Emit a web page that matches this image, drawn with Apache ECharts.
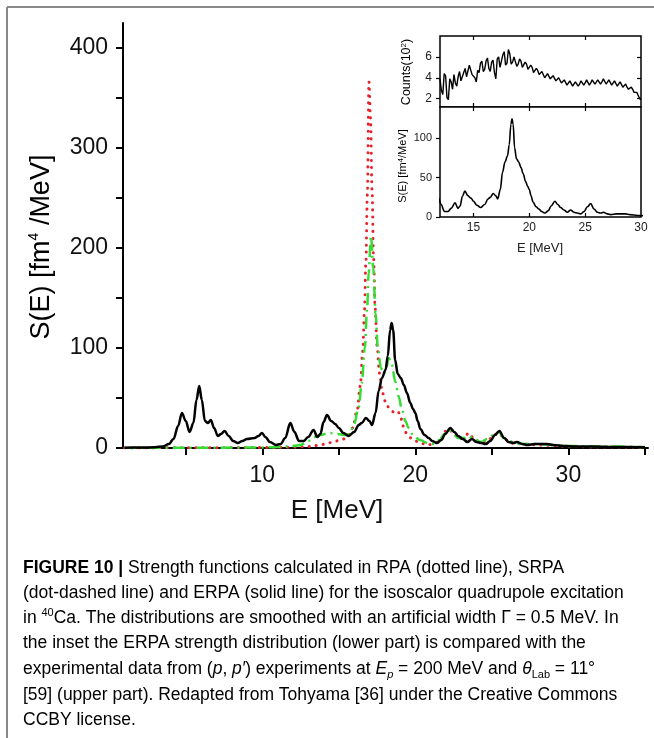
<!DOCTYPE html>
<html>
<head>
<meta charset="utf-8">
<script src="https://cdn.jsdelivr.net/npm/echarts@6/dist/echarts.min.js"></script>
<style>
html,body{margin:0;padding:0;background:#fff;}
#c{width:654px;height:738px;}
</style>
</head>
<body>
<div id="c"></div>
<script>
// ---------- Main chart data (E in MeV, S in fm^4/MeV) ----------
const erpaE = [1.0,2.0,3.0,3.5,3.9,4.2,4.5,4.75,5.0,5.25,5.5,5.7,5.88,6.05,6.25,6.45,6.64,6.85,7.1,7.3,7.54,7.8,8.1,8.4,8.7,9.0,9.5,9.75,9.98,10.2,10.5,10.9,11.2,11.5,11.83,12.1,12.4,12.7,13.0,13.35,13.6,13.8,14.0,14.23,14.5,14.77,15.0,15.3,15.64,16.0,16.3,16.5,16.77,17.0,17.17,17.4,17.6,17.82,18.05,18.2,18.35,18.45,18.55,18.68,18.85,19.05,19.25,19.45,19.67,19.85,20.0,20.15,20.33,20.6,20.87,21.1,21.4,21.7,21.95,22.29,22.55,22.8,23.1,23.4,23.7,24.0,24.3,24.6,24.9,25.2,25.49,25.8,26.1,26.4,26.64,27.0,27.3,27.8,28.3,28.6,29.0,29.7,30.5,31.5,33.0,35.0];
const erpaS = [0.3,0.4,0.8,1.5,4,9,22,35,27,16,25,48,62,48,27,25,28,20,12,14,17,12,7,5,7,9,10,12,15,11,6,3,4,10,25,16,7,7,11,18,11,14,26,33,27,24,20,15,12,16,23,25,30,27,23,35,57,70,78,92,118,125,118,88,74,70,63,55,45,39,35,27,19,13,10,7,5,8,14,20,16,12,9,6,9,6,5,4,7,13,17,10,6,5,6,4,3,4,4,4,3,2,1.5,1.5,1,0.8];

const rpaE = [1.0,5,10,12,13,13.8,14.3,14.8,15.3,15.6,15.9,16.2,16.4,16.57,16.67,16.77,16.87,16.97,17.07,17.17,17.27,17.37,17.5,17.65,17.85,18.1,18.35,18.6,18.85,19.0,19.2,19.45,19.8,20.3,20.8,21.3,21.7,22.0,22.2,22.5,22.9,23.2,23.5,23.8,24.2,24.6,25.0,25.3,25.5,25.8,26.3,27,28,29,30,32,35];
const rpaS = [0,0.2,0.5,0.8,1.5,3,5,7,9,12,20,38,62,97,135,185,255,366,330,258,190,140,102,75,55,44,38,36,37,33,22,14,9,5,3,5,10,17,19,14,9,11,15,10,6,6,10,14,15,9,5,4,3,2.5,1.5,1,0.5];

const srpaE = [1.0,5,10,11.2,12.0,12.5,13.0,13.4,13.8,14.35,14.9,15.4,15.7,16.0,16.3,16.5,16.7,16.85,16.95,17.1,17.25,17.4,17.55,17.75,17.93,18.1,18.26,18.45,18.7,18.9,19.13,19.35,19.56,19.9,20.3,20.8,21.2,21.6,21.9,22.2,22.5,22.8,23.2,23.5,23.8,24.3,24.7,25.1,25.45,25.8,26.1,26.6,27,28,29,30,32,35];
const srpaS = [0,0.2,0.5,1,2,3,7,11,13,15,14,13,14,24,41,65,100,140,175,212,180,135,100,80,74,80,90,84,66,52,38,27,20,12,8,5,4,8,14,18,14,10,10,12,9,6,9,13,16,10,7,5,4,4,3,2,1.5,1];

// ---------- Inset: experimental counts (x10^2) ----------
const countsE = [12.000,12.125,12.250,12.375,12.500,12.625,12.750,12.875,13.000,13.125,13.250,13.375,13.500,13.625,13.750,13.875,14.000,14.125,14.250,14.375,14.500,14.625,14.750,14.875,15.000,15.125,15.250,15.375,15.500,15.625,15.750,15.875,16.000,16.125,16.250,16.375,16.500,16.625,16.750,16.875,17.000,17.125,17.250,17.375,17.500,17.625,17.750,17.875,18.000,18.125,18.250,18.375,18.500,18.625,18.750,18.875,19.000,19.125,19.250,19.375,19.500,19.625,19.750,19.875,20.000,20.125,20.250,20.375,20.500,20.625,20.750,20.875,21.000,21.125,21.250,21.375,21.500,21.625,21.750,21.875,22.000,22.125,22.250,22.375,22.500,22.625,22.750,22.875,23.000,23.125,23.250,23.375,23.500,23.625,23.750,23.875,24.000,24.125,24.250,24.375,24.500,24.625,24.750,24.875,25.000,25.125,25.250,25.375,25.500,25.625,25.750,25.875,26.000,26.125,26.250,26.375,26.500,26.625,26.750,26.875,27.000,27.125,27.250,27.375,27.500,27.625,27.750,27.875,28.000,28.125,28.250,28.375,28.500,28.625,28.750,28.875,29.000,29.125,29.250,29.375,29.500,29.625,29.750,29.875,30.000];
const countsV = [3.9,2.8,2.4,4.4,4.2,2.1,1.9,3.9,3.6,2.9,4.3,3.5,3.2,4.1,4.6,3.7,3.8,4.5,4.9,4.1,4.0,5.2,5.3,4.3,4.2,4.0,3.6,4.7,4.5,5.4,5.6,4.6,4.8,5.6,5.9,4.9,4.6,5.5,5.7,4.5,3.9,5.8,6.0,5.0,5.1,6.2,6.5,5.2,5.4,6.7,6.3,5.3,5.5,6.0,5.9,5.1,5.3,5.8,5.6,5.0,5.1,5.5,5.3,4.8,4.9,5.2,5.0,4.5,4.6,4.9,4.7,4.3,4.3,4.6,4.5,4.0,4.1,4.4,4.3,3.9,4.0,4.2,4.1,3.7,3.8,4.0,3.9,3.5,3.6,3.8,3.7,3.3,3.4,3.7,3.6,3.2,3.3,3.6,3.6,3.2,3.4,3.7,3.6,3.3,3.5,3.8,3.7,3.3,3.5,3.8,3.8,3.4,3.5,3.8,3.7,3.4,3.6,3.9,3.8,3.4,3.5,3.8,3.7,3.3,3.4,3.7,3.6,3.2,3.3,3.6,3.5,3.1,3.2,3.4,3.1,2.9,3.0,3.1,2.9,2.6,2.6,2.6,2.3,2.0,1.9];

// ---------- Tick values ----------
const mainXTicks = [5,10,15,20,25,30,35];
const mainXLabels = [10,20,30];
const mainYTicks = [0,50,100,150,200,250,300,350,400];
const mainYLabels = [0,100,200,300,400];
const insetXTicks = [15,20,25];
const insetXLabels = [15,20,25,30];
const countsTicks = [2,4,6];
const strengthTicks = [0,50,100];

const pairs = (xs, ys) => xs.map((x, i) => [x, ys[i]]);

const SANS = '"Liberation Sans",Arial,"Helvetica Neue",sans-serif';

const chart = echarts.init(document.getElementById('c'), null, {renderer: 'canvas'});

const capBase = {fontFamily: SANS, fontSize: 17.5, color: '#3c3c3c', lineHeight: 22, verticalAlign: 'middle'};
const capRich = {
  n: capBase,
  b: Object.assign({}, capBase, {fontWeight: 'bold', color: '#333'}),
  g: Object.assign({}, capBase, {color: '#a0a0a0'}),
  i: Object.assign({}, capBase, {fontStyle: 'italic'}),
  sup: Object.assign({}, capBase, {fontSize: 11, lineHeight: 12, verticalAlign: 'top'}),
  sub: Object.assign({}, capBase, {fontSize: 11, lineHeight: 10, verticalAlign: 'bottom'}),
  subi: Object.assign({}, capBase, {fontSize: 11, lineHeight: 10, verticalAlign: 'bottom', fontStyle: 'italic'})
};
const captionLines = [
  '{b|FIGURE 10 |}{n| Strength functions calculated in RPA (dotted line), SRPA}',
  '{n|(dot-dashed line) and ERPA (solid line) for the isoscalor quadrupole excitation}',
  '{n|in }{sup|40}{n|Ca. The distributions are smoothed with an artificial width Γ = 0.5 MeV. In}',
  '{n|the inset the ERPA strength distribution (lower part) is compared with the}',
  '{n|experimental data from (}{i|p}{n|, }{i|p′}{n|) experiments at }{i|E}{subi|p}{n| = 200 MeV and }{i|θ}{sub|Lab}{n| = 11°}',
  '{n|[}{g|59}{n|] (upper part). Redapted from Tohyama [}{g|36}{n|] under the Creative Commons}',
  '{n|CCBY license.}'
];
const captionY = [568, 593, 618, 643, 669, 695, 720];

const graphics = [
  {type: 'line', shape: {x1: 7, y1: 7, x2: 7, y2: 738}, style: {stroke: '#8a8a8a', lineWidth: 2}},
  {type: 'line', shape: {x1: 7, y1: 7, x2: 654, y2: 7}, style: {stroke: '#8a8a8a', lineWidth: 2}},
  {type: 'text', x: 42, y: 247, rotation: Math.PI / 2,
    style: {text: '{a|S(E) [fm}{s|4}{a| /MeV]}', align: 'center', verticalAlign: 'middle',
      rich: {a: {fontFamily: SANS, fontSize: 27, color: '#111', lineHeight: 30, verticalAlign: 'middle'},
             s: {fontFamily: SANS, fontSize: 14, color: '#111', lineHeight: 14, verticalAlign: 'top'}}}},
  {type: 'text', x: 337, y: 511,
    style: {text: 'E [MeV]', font: '26px ' + SANS, fill: '#111', align: 'center', verticalAlign: 'middle'}},
  {type: 'text', x: 407, y: 72, rotation: Math.PI / 2,
    style: {text: '{a|Counts(10}{s|2}{a|)}', align: 'center', verticalAlign: 'middle',
      rich: {a: {fontFamily: SANS, fontSize: 12.5, color: '#222', lineHeight: 14, verticalAlign: 'middle'},
             s: {fontFamily: SANS, fontSize: 8, color: '#222', lineHeight: 8, verticalAlign: 'top'}}}},
  {type: 'text', x: 403, y: 166, rotation: Math.PI / 2,
    style: {text: '{a|S(E) [fm}{s|4}{a|/MeV]}', align: 'center', verticalAlign: 'middle',
      rich: {a: {fontFamily: SANS, fontSize: 11, color: '#222', lineHeight: 13, verticalAlign: 'middle'},
             s: {fontFamily: SANS, fontSize: 8, color: '#222', lineHeight: 8, verticalAlign: 'top'}}}},
  {type: 'text', x: 540, y: 248,
    style: {text: 'E [MeV]', font: '13px ' + SANS, fill: '#222', align: 'center', verticalAlign: 'middle'}}
];
captionLines.forEach((t, i) => {
  graphics.push({type: 'text', x: 23, y: captionY[i],
    style: {text: t, rich: capRich, align: 'left', verticalAlign: 'middle'}});
});

const insetXCommon = (grid, pos, showLabels, tickVals, labelVals) => ({
  type: 'value', gridIndex: grid, min: 12, max: 30, position: pos,
  axisLine: {show: false},
  axisTick: {show: true, inside: true, length: 4, customValues: tickVals, lineStyle: {color: '#000', width: 1.2}},
  axisLabel: {show: showLabels, customValues: labelVals, margin: 5, fontFamily: SANS, fontSize: 12, color: '#222'},
  splitLine: {show: false}
});

const option = {
  animation: false,
  backgroundColor: '#fff',
  grid: [
    {left: 123, right: 6, top: 23, bottom: 290},
    {left: 440, top: 36, width: 201, height: 71, show: true, backgroundColor: '#fff', borderColor: '#000', borderWidth: 1.5},
    {left: 440, top: 107, width: 201, height: 110, show: true, backgroundColor: '#fff', borderColor: '#000', borderWidth: 1.5}
  ],
  xAxis: [
    {type: 'value', gridIndex: 0, min: 0.9, max: 35.2,
      axisLine: {show: true, onZero: false, lineStyle: {color: '#000', width: 2}},
      axisTick: {show: true, length: 7, customValues: mainXTicks, lineStyle: {color: '#000', width: 2}},
      axisLabel: {customValues: mainXLabels, margin: 16, fontFamily: SANS, fontSize: 23, color: '#111'},
      splitLine: {show: false}},
    insetXCommon(1, 'bottom', false, insetXTicks, insetXTicks),
    insetXCommon(1, 'top', false, insetXTicks, insetXTicks),
    insetXCommon(2, 'bottom', true, insetXTicks, insetXLabels),
    insetXCommon(2, 'top', false, insetXTicks, insetXTicks)
  ],
  yAxis: [
    {type: 'value', gridIndex: 0, min: 0, max: 425,
      axisLine: {show: true, lineStyle: {color: '#000', width: 2}},
      axisTick: {show: true, length: 7, customValues: mainYTicks, lineStyle: {color: '#000', width: 2}},
      axisLabel: {customValues: mainYLabels, margin: 15, fontFamily: SANS, fontSize: 23, color: '#111'},
      splitLine: {show: false}},
    {type: 'value', gridIndex: 1, min: 1.2, max: 8, position: 'left',
      axisLine: {show: false},
      axisTick: {show: true, length: 4, customValues: countsTicks, lineStyle: {color: '#000', width: 1.2}},
      axisLabel: {customValues: countsTicks, margin: 8, fontFamily: SANS, fontSize: 12, color: '#222'},
      splitLine: {show: false}},
    {type: 'value', gridIndex: 1, min: 1.2, max: 8, position: 'right',
      axisLine: {show: false},
      axisTick: {show: true, inside: true, length: 4, customValues: countsTicks, lineStyle: {color: '#000', width: 1.2}},
      axisLabel: {show: false},
      splitLine: {show: false}},
    {type: 'value', gridIndex: 2, min: 0, max: 140, position: 'left',
      axisLine: {show: false},
      axisTick: {show: true, length: 4, customValues: strengthTicks, lineStyle: {color: '#000', width: 1.2}},
      axisLabel: {customValues: strengthTicks, margin: 8, fontFamily: SANS, fontSize: 11, color: '#222'},
      splitLine: {show: false}}
  ],
  series: [
    {name: 'RPA', type: 'line', xAxisIndex: 0, yAxisIndex: 0, data: pairs(rpaE, rpaS),
      showSymbol: false, smooth: 0.35, smoothMonotone: 'x',
      lineStyle: {color: '#e8202a', width: 3, type: [0.1, 7], cap: 'round'}, z: 3},
    {name: 'SRPA', type: 'line', xAxisIndex: 0, yAxisIndex: 0, data: pairs(srpaE, srpaS),
      showSymbol: false, smooth: 0.35, smoothMonotone: 'x',
      lineStyle: {color: '#33dd33', width: 2.5, type: [12, 5, 2, 5]}, z: 4},
    {name: 'ERPA', type: 'line', xAxisIndex: 0, yAxisIndex: 0, data: pairs(erpaE, erpaS),
      showSymbol: false, smooth: 0.35, smoothMonotone: 'x',
      lineStyle: {color: '#000', width: 2.5}, z: 5},
    {name: 'Counts', type: 'line', xAxisIndex: 1, yAxisIndex: 1, data: pairs(countsE, countsV),
      showSymbol: false, lineStyle: {color: '#000', width: 1.4}, z: 6},
    {name: 'ERPA inset', type: 'line', xAxisIndex: 3, yAxisIndex: 3, data: pairs(erpaE, erpaS),
      showSymbol: false, smooth: 0.35, smoothMonotone: 'x',
      lineStyle: {color: '#000', width: 1.6}, z: 6}
  ],
  graphic: graphics
};
chart.setOption(option);
</script>
</body>
</html>
